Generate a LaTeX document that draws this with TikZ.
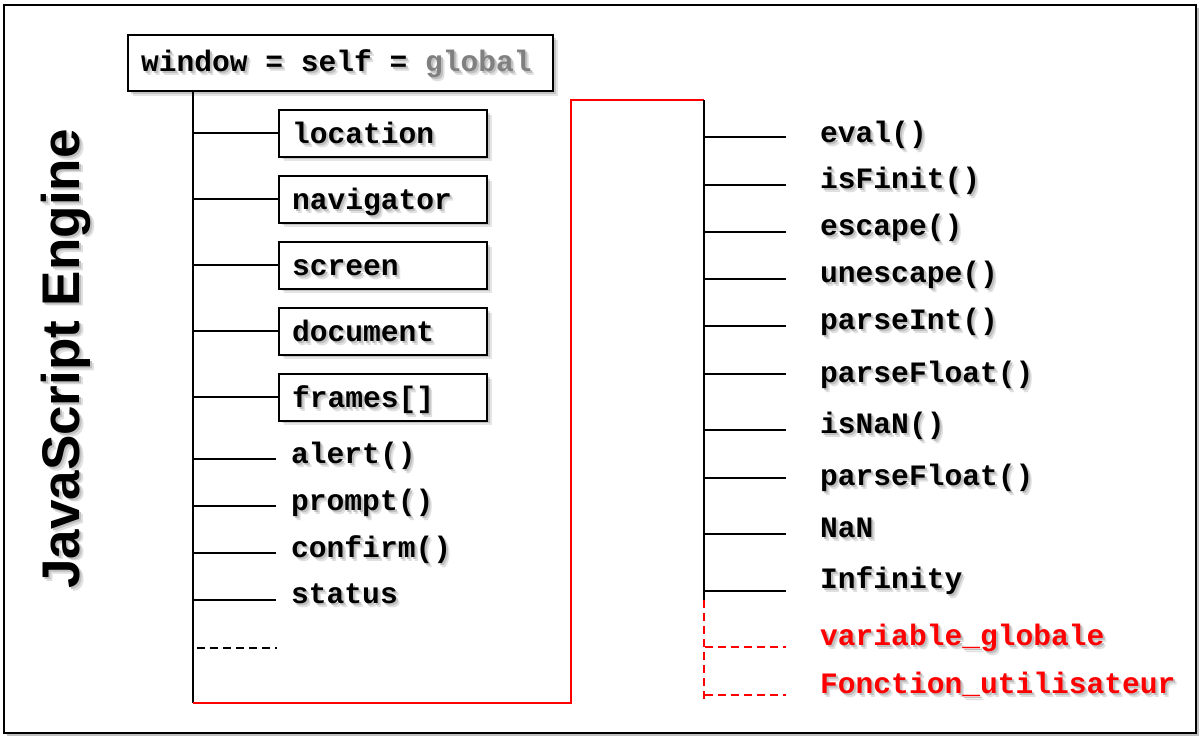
\documentclass[tikz,border=0pt]{standalone}
\usepackage{fontspec}
\setmainfont{Liberation Sans}
\newfontfamily\codefont{Liberation Mono}
\usetikzlibrary{shadows}
\def\glcolor{gray}
\newcommand\globalword{\textcolor{\glcolor}{global}}
\newcommand\csp{\hspace*{0.6em}}
\newcommand\shd[1]{\makebox[0pt][l]{\smash{\kern3.5pt\raisebox{-4.5pt}{\def\glcolor{black!12}\color{black!12}#1}}}\makebox[0pt][l]{\smash{\kern2pt\raisebox{-2.5pt}{\def\glcolor{black!25}\color{black!25}#1}}}#1}
\newcommand\shdr[1]{\makebox[0pt][l]{\smash{\kern-3.5pt\raisebox{-4.5pt}{\color{black!12}#1}}}\makebox[0pt][l]{\smash{\kern-2pt\raisebox{-2.5pt}{\color{black!25}#1}}}#1}
\begin{document}
\begin{tikzpicture}[x=1pt,y=-1pt,
  softshadow/.style={general shadow={shadow xshift=4.5pt,shadow yshift=-4.5pt,fill=black,opacity=0.10},
                     general shadow={shadow xshift=2.5pt,shadow yshift=-2.5pt,fill=black,opacity=0.14}},
  objbox/.style={draw=black,line width=2pt,fill=white,softshadow,anchor=north west,
                 inner xsep=13pt,inner ysep=0pt,align=left,
                 font=\codefont\bfseries\fontsize{29.6}{34}\selectfont},
  codetxt/.style={font=\codefont\bfseries\fontsize{29.6}{34}\selectfont,inner sep=0pt,anchor=base west},
  link/.style={line width=2pt,draw=black},
  redlink/.style={line width=2pt,draw=red},
  dashlink/.style={line width=2pt,dash pattern=on 8pt off 5pt}
]
\useasboundingbox (0,0) rectangle (1200,737);
\fill[white] (0,0) rectangle (1200,737);
% outer frame
\draw[line width=2pt,fill=white,general shadow={shadow xshift=3pt,shadow yshift=-3pt,fill=black,opacity=0.25}] (4,5) rectangle (1196,733);

% vertical title
\node[rotate=90,anchor=base,inner sep=0pt,font=\bfseries\fontsize{53}{53}\selectfont] (engine) at (79,359) {\shdr{JavaScript Engine}};

% top box
\node[objbox,text width=399pt,minimum height=56pt,text height=22pt,text depth=6pt] (title) at (127,34) {\shd{window\csp=\csp self\csp=\csp\globalword}};

% skeleton
\coordinate (ttop) at (193,90);
\coordinate (lb) at (193,703);
\coordinate (rb) at (571,703);
\coordinate (rt) at (571,100);
\coordinate (rtr) at (704,100);
\coordinate (rmid) at (704,600);
\coordinate (rend) at (704,703);
\draw[link] (title.south -| ttop) -- (lb);
\draw[redlink,line join=miter] (lb) -- (rb) -- (rt) -- (rtr);
\draw[link] (rtr) -- (rmid);
\draw[redlink,dashlink] (rmid) -- (rend);

% boxed objects
\foreach \nm/\txt/\yy in {location/location/109, navigator/navigator/175, screen/screen/241, document/document/307, frames/{frames[]}/373}{
  \node[objbox,text width=182pt,minimum height=46.5pt,text height=23.75pt,text depth=4.25pt] (\nm) at (278,\yy) {\shd{\txt}};
  \draw[link] (\nm.west -| lb) -- (\nm.west);
}

% plain members on the left
\foreach \nm/\txt/\by/\ty in {alert/alert()/463/459, prompt/prompt()/510/506, confirm/confirm()/557/553, status/status/603/600}{
  \node[codetxt] (\nm) at (291,\by) {\shd{\txt}};
  \coordinate (\nm-a) at (194,\ty);
  \coordinate (\nm-b) at (276,\ty);
  \draw[link] (\nm-a) -- (\nm-b);
}
\coordinate (more-a) at (197,648);
\coordinate (more-b) at (277,648);
\draw[link,dashlink] (more-a) -- (more-b);

% global functions on the right
\foreach \nm/\txt/\by/\ty in {eval/eval()/142/137, isfinit/isFinit()/188/185, escape/escape()/235/232, unescape/unescape()/282/279, parseint/parseInt()/329/326, parsefloata/parseFloat()/382/374, isnan/isNaN()/433/430, parsefloatb/parseFloat()/485/478, nan/NaN/537/534, infinity/Infinity/588/591}{
  \node[codetxt] (\nm) at (820,\by) {\shd{\txt}};
  \coordinate (\nm-a) at (705,\ty);
  \coordinate (\nm-b) at (786,\ty);
  \draw[link] (\nm-a) -- (\nm-b);
}
\foreach \nm/\txt/\by/\ty in {varglob/variable\_globale/645/647, fonction/Fonction\_utilisateur/693/695}{
  \node[codetxt,text=red] (\nm) at (820,\by) {\shd{\txt}};
  \coordinate (\nm-a) at (705,\ty);
  \coordinate (\nm-b) at (786,\ty);
  \draw[redlink,dashlink] (\nm-a) -- (\nm-b);
}
\end{tikzpicture}
\end{document}
